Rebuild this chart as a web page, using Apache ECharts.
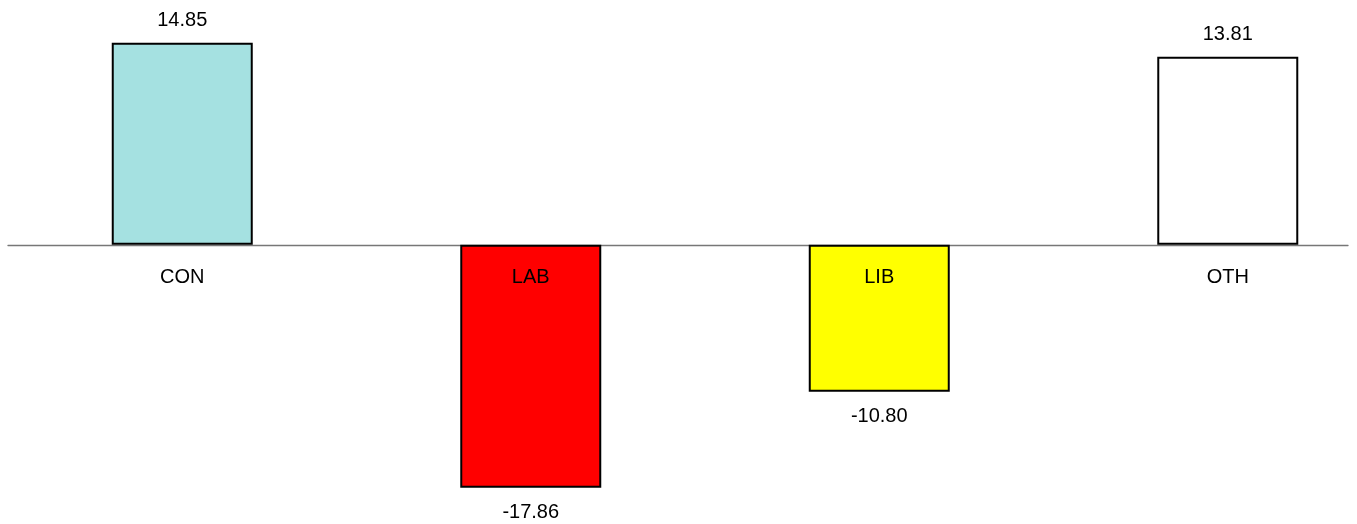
<!DOCTYPE html>
<html>
<head>
<meta charset="utf-8">
<script src="https://cdn.jsdelivr.net/npm/echarts@6/dist/echarts.min.js"></script>
<style>
html,body{margin:0;padding:0;background:#fff;}
#chart{width:1357px;height:524px;}
</style>
</head>
<body>
<div id="chart"></div>
<script>
const categories = ['CON', 'LAB', 'LIB', 'OTH'];
const values = [14.85, -17.86, -10.80, 13.81];
const barColors = ['#A5E1E1', '#FF0000', '#FFFF00', '#FFFFFF'];
const positions = [0, 1, 2, 3];

const chart = echarts.init(document.getElementById('chart'));
const fontFamily = '"Liberation Sans", Arial, sans-serif';

const data = values.map((v, i) => ({
  value: [positions[i], v],
  itemStyle: { color: barColors[i], borderColor: '#000', borderWidth: 2 },
  label: { position: v >= 0 ? 'top' : 'bottom', distance: v >= 0 ? 12 : 15 }
}));

chart.setOption({
  animation: false,
  backgroundColor: '#fff',
  grid: [
    { left: 8, right: 9, top: 27, height: 490, outerBoundsMode: 'none' },
    { left: 8, right: 9, top: 0, height: 244.5, outerBoundsMode: 'none' }
  ],
  xAxis: [
    {
      gridIndex: 0, type: 'value', min: -0.5, max: 3.345, z: 0,
      axisLine: { show: true, onZero: true, lineStyle: { color: '#777', width: 1.3 } },
      axisTick: { show: false }, axisLabel: { show: false }, splitLine: { show: false }
    },
    {
      gridIndex: 1, type: 'value', min: -0.5, max: 3.345, z: 10, position: 'bottom',
      axisLine: { show: false }, axisTick: { show: false }, splitLine: { show: false },
      axisLabel: {
        show: true, customValues: positions, margin: 23,
        formatter: function (v) { return categories[Math.round(Number(v))] || ''; },
        color: '#000', fontSize: 20, fontFamily: fontFamily
      }
    }
  ],
  yAxis: [
    { gridIndex: 0, type: 'value', min: -20, max: 16, show: false },
    { gridIndex: 1, type: 'value', min: 0, max: 1, show: false }
  ],
  series: [{
    type: 'bar',
    xAxisIndex: 0, yAxisIndex: 0,
    barWidth: 141,
    data: data,
    label: {
      show: true, color: '#000', fontSize: 20, fontFamily: fontFamily,
      formatter: p => p.value[1].toFixed(2)
    }
  }]
});
</script>
</body>
</html>
